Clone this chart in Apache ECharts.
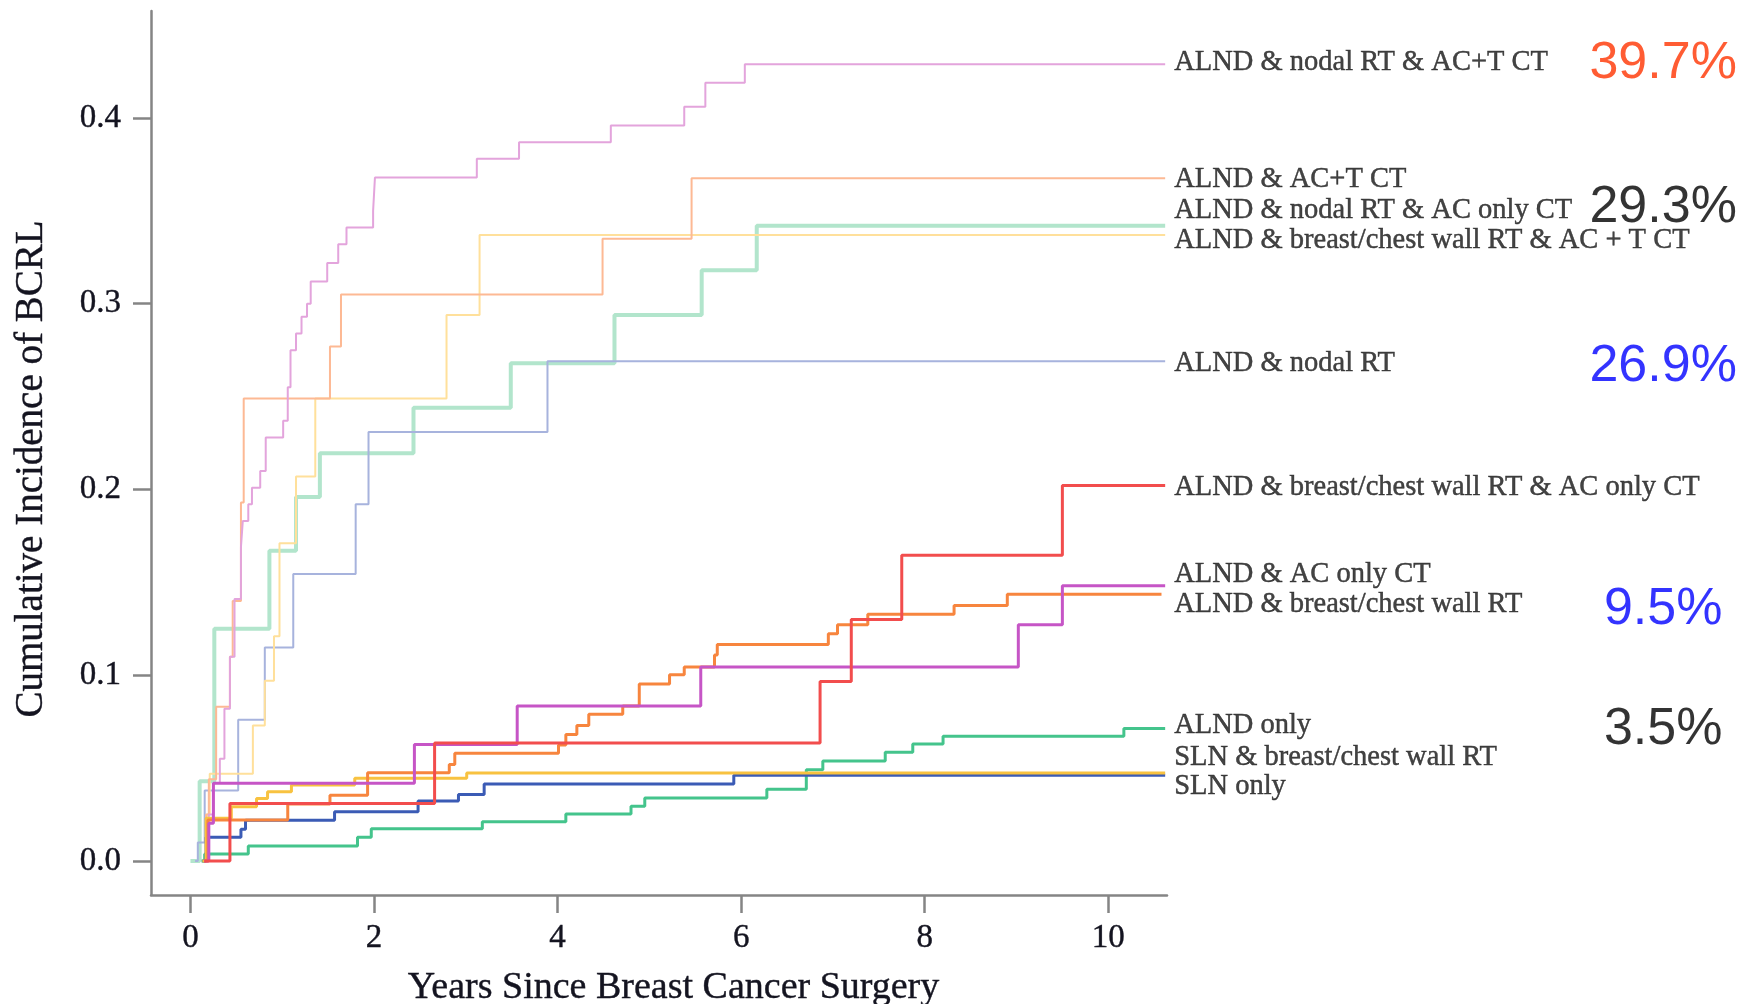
<!DOCTYPE html>
<html>
<head>
<meta charset="utf-8">
<script src="https://cdn.jsdelivr.net/npm/echarts@6.0.0/dist/echarts.min.js"></script>
<style>
html,body{margin:0;padding:0;background:#ffffff;}
#chart{width:1760px;height:1004px;}
</style>
</head>
<body>
<div id="chart"></div>
<script>
// ---------- data ----------
const xTicks = [0, 2, 4, 6, 8, 10];
const yTicks = [0, 0.1, 0.2, 0.3, 0.4];
const xMin = -0.43, xMax = 10.64, yMin = -0.0183, yMax = 0.4576;
const xEnd = 10.62;

const groupNames = [
  'ALND & nodal RT & AC+T CT',
  'ALND & AC+T CT',
  'ALND & nodal RT & AC only CT',
  'ALND & breast/chest wall RT & AC + T CT',
  'ALND & nodal RT',
  'ALND & breast/chest wall RT & AC only CT',
  'ALND & AC only CT',
  'ALND & breast/chest wall RT',
  'ALND only',
  'SLN & breast/chest wall RT',
  'SLN only'
];

// [years, cumulative incidence after the step]
const nodalRtAcTData = [[0.13,0],[0.2,0.025],[0.25,0.042],[0.32,0.055],[0.37,0.082],[0.43,0.11],[0.48,0.141],[0.55,0.169],[0.57,0.183],[0.63,0.192],[0.67,0.201],[0.76,0.21],[0.82,0.228],[1.01,0.237],[1.06,0.255],[1.09,0.275],[1.15,0.284],[1.21,0.293],[1.27,0.300],[1.31,0.312],[1.49,0.322],[1.61,0.332],[1.70,0.341],[1.99,0.350],[2.01,0.368],[3.12,0.378],[3.58,0.387],[4.58,0.396],[5.38,0.406],[5.61,0.419],[6.04,0.429],[10.62,0.429]];
const acTData = [[0.13,0],[0.17,0.025],[0.2,0.044],[0.28,0.083],[0.43,0.11],[0.46,0.14],[0.55,0.193],[0.58,0.249],[1.52,0.277],[1.64,0.305],[4.49,0.335],[5.46,0.3675],[10.62,0.3675]];
const nodalRtAcOnlyData = [[0,0],[0.10,0.043],[0.26,0.125],[0.86,0.167],[1.15,0.196],[1.41,0.2195],[2.43,0.244],[3.49,0.268],[4.62,0.294],[5.57,0.318],[6.17,0.342],[10.62,0.342]];
const bcwRtAcTData = [[0.13,0],[0.18,0.025],[0.21,0.047],[0.68,0.073],[0.81,0.097],[0.91,0.121],[0.97,0.171],[1.15,0.207],[1.36,0.249],[2.79,0.294],[3.15,0.337],[10.62,0.337]];
const nodalRtData = [[0.05,0],[0.08,0.01],[0.155,0.038],[0.52,0.076],[0.81,0.115],[1.12,0.1545],[1.80,0.192],[1.94,0.231],[3.89,0.269],[10.62,0.269]];
const bcwRtAcOnlyData = [[0.15,0],[0.43,0.031],[2.66,0.0635],[6.86,0.0967],[7.20,0.130],[7.75,0.1646],[9.50,0.2022],[10.62,0.2022]];
const acOnlyData = [[0.15,0],[0.2,0.0203],[0.25,0.0418],[2.44,0.0627],[3.56,0.0835],[5.56,0.1044],[9.02,0.1272],[9.50,0.1482],[10.62,0.1482]];
const bcwRtData = [[0.15,0],[0.19,0.0221],[1.06,0.0307],[1.52,0.0354],[1.93,0.0475],[2.82,0.0519],[2.88,0.058],[4.01,0.0624],[4.09,0.0681],[4.21,0.0729],[4.34,0.079],[4.71,0.0835],[4.89,0.0953],[5.22,0.1003],[5.38,0.1044],[5.71,0.1109],[5.74,0.1166],[6.95,0.1223],[7.05,0.1272],[7.38,0.1328],[8.32,0.1375],[8.90,0.1436],[10.58,0.1436]];
const alndOnlyData = [[0.12,0],[0.155,0.0038],[0.63,0.0081],[1.82,0.0128],[1.97,0.0174],[3.18,0.0212],[4.09,0.0253],[4.80,0.0295],[4.95,0.0339],[6.28,0.0386],[6.71,0.0491],[6.89,0.0538],[7.57,0.0586],[7.87,0.063],[8.20,0.0672],[10.17,0.0714],[10.62,0.0714]];
const slnBcwRtData = [[0.13,0],[0.17,0.023],[0.445,0.0292],[0.72,0.0337],[0.84,0.0373],[1.10,0.0409],[1.79,0.0445],[3.01,0.0474],[10.62,0.0474]];
const slnOnlyData = [[0.13,0],[0.17,0.0128],[0.55,0.0171],[0.60,0.022],[1.57,0.0265],[2.48,0.0323],[2.92,0.0358],[3.20,0.0415],[5.92,0.0462],[10.62,0.0462]];

// vertical placement of the right-hand group labels (in y-axis units)
const groupLabelY = [0.4296, 0.3668, 0.3501, 0.3339, 0.2677, 0.201, 0.1543, 0.138, 0.0731, 0.0556, 0.04];

const pctLabels = ['39.7%', '29.3%', '26.9%', '9.5%', '3.5%'];
const pctY = [0.4293, 0.3515, 0.266, 0.1352, 0.0706];
const pctColors = ['#ff3300', '#000000', '#0000ff', '#0000ff', '#000000'];

// ---------- styles ----------
const seriesData = [nodalRtAcTData, acTData, nodalRtAcOnlyData, bcwRtAcTData, nodalRtData,
  bcwRtAcOnlyData, acOnlyData, bcwRtData, alndOnlyData, slnBcwRtData, slnOnlyData];
const colors = ['#e3a4dc', '#fdb994', '#b2e5cc', '#ffe09b', '#a7b3dd',
  '#f24d4d', '#c655c6', '#f7853e', '#44c48c', '#f8c240', '#3b5bb5'];
const widths = [2, 2, 4, 2, 2, 3, 3, 3, 3, 3, 3];
const drawOrder = [2, 4, 3, 1, 0, 8, 10, 9, 7, 6, 5];

const axisColor = '#858585';
const serif = 'Liberation Serif';
const textColor = '#141420';

const lineSeries = drawOrder.map(i => ({
  type: 'line', name: groupNames[i], data: seriesData[i], step: 'end',
  showSymbol: false, symbol: 'none', silent: true,
  lineStyle: { color: colors[i], width: widths[i] }, z: 2
}));

const chart = echarts.init(document.getElementById('chart'), null, { renderer: 'canvas' });
chart.setOption({
  animation: false,
  backgroundColor: '#ffffff',
  grid: { left: 151, right: 593, top: 11, bottom: 109, containLabel: false, outerBoundsMode: 'none' },
  xAxis: {
    type: 'value', min: xMin, max: xMax,
    name: 'Years Since Breast Cancer Surgery',
    nameLocation: 'middle', nameGap: 74,
    nameTextStyle: { fontFamily: serif, fontSize: 38, color: textColor, padding: [0, 0, 0, 29],
      textBorderColor: textColor, textBorderWidth: 0.4 },
    axisLine: { show: true, onZero: false, lineStyle: { color: axisColor, width: 2.5 } },
    axisTick: { show: true, inside: false, length: 18, customValues: xTicks,
      lineStyle: { color: axisColor, width: 2.5 } },
    axisLabel: { customValues: xTicks, fontFamily: serif, fontSize: 33, color: textColor, margin: 27,
      textBorderColor: textColor, textBorderWidth: 0.4 },
    splitLine: { show: false }
  },
  yAxis: {
    type: 'value', min: yMin, max: yMax,
    name: 'Cumulative Incidence of BCRL',
    nameLocation: 'middle', nameGap: 100, nameRotate: 90,
    nameTextStyle: { fontFamily: serif, fontSize: 39, color: textColor, padding: [0, 32, 0, 0],
      textBorderColor: textColor, textBorderWidth: 0.4 },
    axisLine: { show: true, onZero: false, lineStyle: { color: axisColor, width: 2.5 } },
    axisTick: { show: true, inside: false, length: 18, customValues: yTicks,
      lineStyle: { color: axisColor, width: 2.5 } },
    axisLabel: { customValues: yTicks, fontFamily: serif, fontSize: 33, color: textColor, margin: 30,
      textBorderColor: textColor, textBorderWidth: 0.4, formatter: v => v.toFixed(1) },
    splitLine: { show: false }
  },
  series: lineSeries.concat([
    {
      type: 'scatter', silent: true, symbolSize: 0, z: 5,
      data: groupNames.map((n, i) => ({ name: n, value: [xEnd, groupLabelY[i]] })),
      label: { show: true, position: 'right', distance: 9, formatter: p => p.name,
        fontFamily: serif, fontSize: 28.5, color: '#141414', textBorderColor: '#141414', textBorderWidth: 0.45 }
    },
    {
      type: 'scatter', silent: true, symbolSize: 0, z: 5,
      data: pctLabels.map((t, i) => ({ name: t, value: [xEnd, pctY[i]], label: { color: pctColors[i] } })),
      label: { show: true, position: 'inside', offset: [498, 0], formatter: p => p.name,
        fontFamily: 'Liberation Sans', fontSize: 52 }
    }
  ])
});
</script>
</body>
</html>
